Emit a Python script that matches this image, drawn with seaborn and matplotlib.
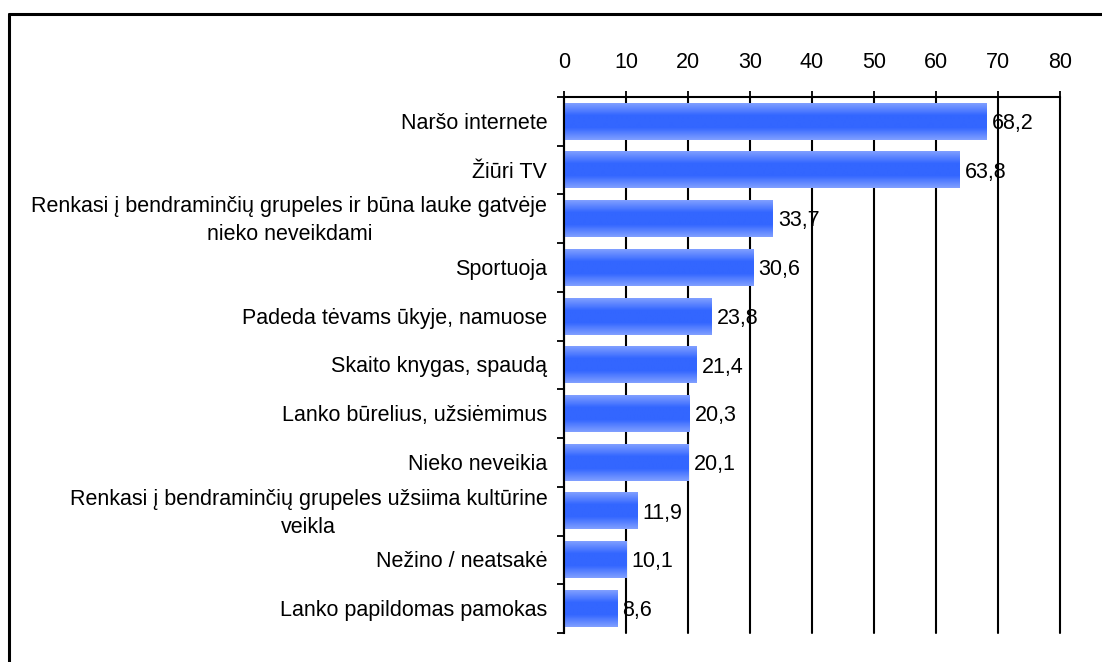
import numpy as np
import pandas as pd
import seaborn as sns
import matplotlib.pyplot as plt
from matplotlib.colors import LinearSegmentedColormap
from matplotlib.lines import Line2D
from matplotlib.transforms import ScaledTranslation

categories = [
    "Naršo internete",
    "Žiūri TV",
    "Renkasi į bendraminčių grupeles ir būna lauke gatvėje\nnieko neveikdami",
    "Sportuoja",
    "Padeda tėvams ūkyje, namuose",
    "Skaito knygas, spaudą",
    "Lanko būrelius, užsiėmimus",
    "Nieko neveikia",
    "Renkasi į bendraminčių grupeles užsiima kultūrine\nveikla",
    "Nežino / neatsakė",
    "Lanko papildomas pamokas",
]
values = [68.2, 63.8, 33.7, 30.6, 23.8, 21.4, 20.3, 20.1, 11.9, 10.1, 8.6]
xticks = [0, 10, 20, 30, 40, 50, 60, 70, 80]

df = pd.DataFrame({"cat": categories, "val": values})

sns.set_theme(style="white")
plt.rcParams["font.family"] = ["Liberation Sans", "DejaVu Sans"]
plt.rcParams["text.color"] = "black"
plt.rcParams["xtick.color"] = "black"
plt.rcParams["ytick.color"] = "black"
fs = 15.5

fig = plt.figure(figsize=(11.02, 6.62), dpi=100)
ax = fig.add_axes([564 / 1102, 1 - 633 / 662, (1060 - 564) / 1102, (633 - 97) / 662])

sns.barplot(data=df, x="val", y="cat", orient="h", color="#3366ff",
            width=0.75, ax=ax, zorder=2)

# gradient fill over each bar
grad = LinearSegmentedColormap.from_list("g", ["#809fff", "#3366ff", "#3366ff", "#809fff"])
g = np.linspace(0, 1, 64).reshape(-1, 1)
for p in ax.patches:
    x0, y0 = p.get_x(), p.get_y()
    w, h = p.get_width(), p.get_height()
    ax.imshow(g, cmap=grad, aspect="auto", extent=(x0, x0 + w, y0 + h, y0),
              zorder=3, interpolation="bilinear")
    p.set_visible(False)

ax.set_xlim(0, 80)
ax.set_ylim(len(categories) - 0.5, -0.5)

# value labels
for i, v in enumerate(values):
    ax.annotate(f"{v:.1f}".replace(".", ","), (v, i), xytext=(3.5, -1.5),
                textcoords="offset points", va="center", ha="left",
                fontsize=fs, color="black", zorder=5)

ax.xaxis.tick_top()
ax.set_xticks(xticks)
ax.set_xticklabels([str(t) for t in xticks], fontsize=fs)
ax.tick_params(axis="x", direction="inout", length=9, width=1.3,
               pad=13, top=True, bottom=False)
for t in xticks:
    ax.axvline(t, color="black", lw=1.5, zorder=1, clip_on=False)

ax.set_yticks(range(len(categories)))
ax.set_yticklabels(categories, fontsize=fs, ha="right", va="center",
                   multialignment="center", linespacing=1.45)
ax.tick_params(axis="y", which="major", length=0, pad=12, left=True)
ax.set_yticks(np.arange(-0.5, len(categories), 1), minor=True)
ax.tick_params(axis="y", which="minor", direction="out", length=5, width=1.3,
               left=True)
# nudge labels down a little so they sit level with the bars
shift = ScaledTranslation(0, -2 / 100, fig.dpi_scale_trans)
for lab in ax.get_yticklabels():
    lab.set_transform(lab.get_transform() + shift)

ax.set_xlabel("")
ax.set_ylabel("")
for s in ["right", "bottom"]:
    ax.spines[s].set_visible(False)
for s in ["top", "left"]:
    ax.spines[s].set_color("black")
    ax.spines[s].set_linewidth(1.5)
    ax.spines[s].set_zorder(4)

# outer frame (only left and top are visible in the picture)
fig.add_artist(Line2D([9 / 1102, 9 / 1102], [0, 1 - 14 / 662], color="black",
                      lw=2.2, transform=fig.transFigure))
fig.add_artist(Line2D([9 / 1102, 1], [1 - 14 / 662, 1 - 14 / 662], color="black",
                      lw=2.2, transform=fig.transFigure))

fig.savefig("out.png", dpi=100)
